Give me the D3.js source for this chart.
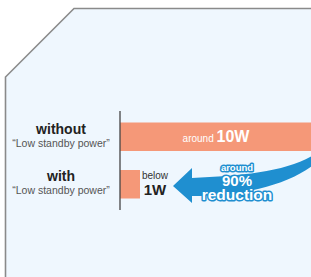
<!DOCTYPE html>
<html><head><meta charset="utf-8">
<script src="https://cdn.jsdelivr.net/npm/d3@7"></script>
<style>
html,body{margin:0;padding:0;background:#fff;}
svg{display:block;font-family:"Liberation Sans",Arial,sans-serif;}
</style></head>
<body>
<svg id="c" width="311" height="277"></svg>
<script>
const categories = ["without", "with"];
const subLabels = ["“Low standby power”", "“Low standby power”"];
const values = [10, 1];
const valuePrefix = ["around", "below"];
const valueLabels = ["10W", "1W"];
const reductionLines = ["around", "90%", "reduction"];

const svg = d3.select("#c");
// panel fill
svg.append("path")
  .attr("d", "M5.5,277 L5.5,77 L74,8.5 L312,8.5 L312,278 Z")
  .attr("fill", "#eff7fe");
// panel outline
svg.append("path")
  .attr("d", "M5.5,278 L5.5,77 L74,8.5 L312,8.5")
  .attr("fill", "none")
  .attr("stroke", "#8a8a8a")
  .attr("stroke-width", 1.6);

const x = d3.scaleLinear().domain([0, 10]).range([120, 320]);
const y = d3.scaleBand().domain(categories).range([113, 208]).paddingInner(0.4).paddingOuter(0.2);

svg.selectAll("rect.bar").data(values).join("rect")
  .attr("class", "bar")
  .attr("x", x(0))
  .attr("y", (d, i) => y(categories[i]))
  .attr("width", d => x(d) - x(0))
  .attr("height", y.bandwidth())
  .attr("fill", "#f59878");

// axis line
svg.append("line").attr("x1", 120).attr("x2", 120).attr("y1", 111).attr("y2", 210)
  .attr("stroke", "#444").attr("stroke-width", 1.3);

// category labels
categories.forEach((c, i) => {
  const cy = y(c) + y.bandwidth() / 2;
  svg.append("text").attr("x", 61).attr("y", cy - 3).attr("text-anchor", "middle")
    .attr("font-size", 14).attr("font-weight", "bold").attr("fill", "#222").text(c);
  svg.append("text").attr("x", 61).attr("y", cy + 10).attr("text-anchor", "middle")
    .attr("font-size", 10.5).attr("fill", "#555").text(subLabels[i]);
});

// value label inside first bar
{
  const cy = y(categories[0]) + y.bandwidth() / 2;
  const t = svg.append("text").attr("x", 216).attr("y", cy + 5).attr("text-anchor", "middle").attr("fill", "#fff");
  t.append("tspan").attr("font-size", 10).text(valuePrefix[0] + " ");
  t.append("tspan").attr("font-size", 16).attr("font-weight", "bold").text(valueLabels[0]);
}
// second value label beside bar
{
  const cy = y(categories[1]) + y.bandwidth() / 2;
  const lx = x(values[1]) + 15;
  svg.append("text").attr("x", lx).attr("y", cy - 5).attr("text-anchor", "middle")
    .attr("font-size", 10).attr("fill", "#333").text(valuePrefix[1]);
  svg.append("text").attr("x", lx).attr("y", cy + 11).attr("text-anchor", "middle")
    .attr("font-size", 15).attr("font-weight", "bold").attr("fill", "#222").text(valueLabels[1]);
}

// curved arrow
svg.append("path")
  .attr("d", "M173,186 L192,168 L192,178 C240,176 285,172 312,156 L312,166 C285,186 240,196 192,196 L192,203 Z")
  .attr("fill", "#1f8fd0");

// reduction text with outline
const rx = 237;
const ry = [171, 186, 200];
const rs = [9.5, 15, 15.5];
reductionLines.forEach((s, i) => {
  svg.append("text").attr("x", rx).attr("y", ry[i]).attr("text-anchor", "middle")
    .attr("font-size", rs[i]).attr("font-weight", "bold")
    .attr("fill", "#fff").attr("stroke", "#1f8fd0").attr("stroke-width", 3)
    .attr("stroke-linejoin", "round").attr("paint-order", "stroke").text(s);
});
</script>
</body></html>
